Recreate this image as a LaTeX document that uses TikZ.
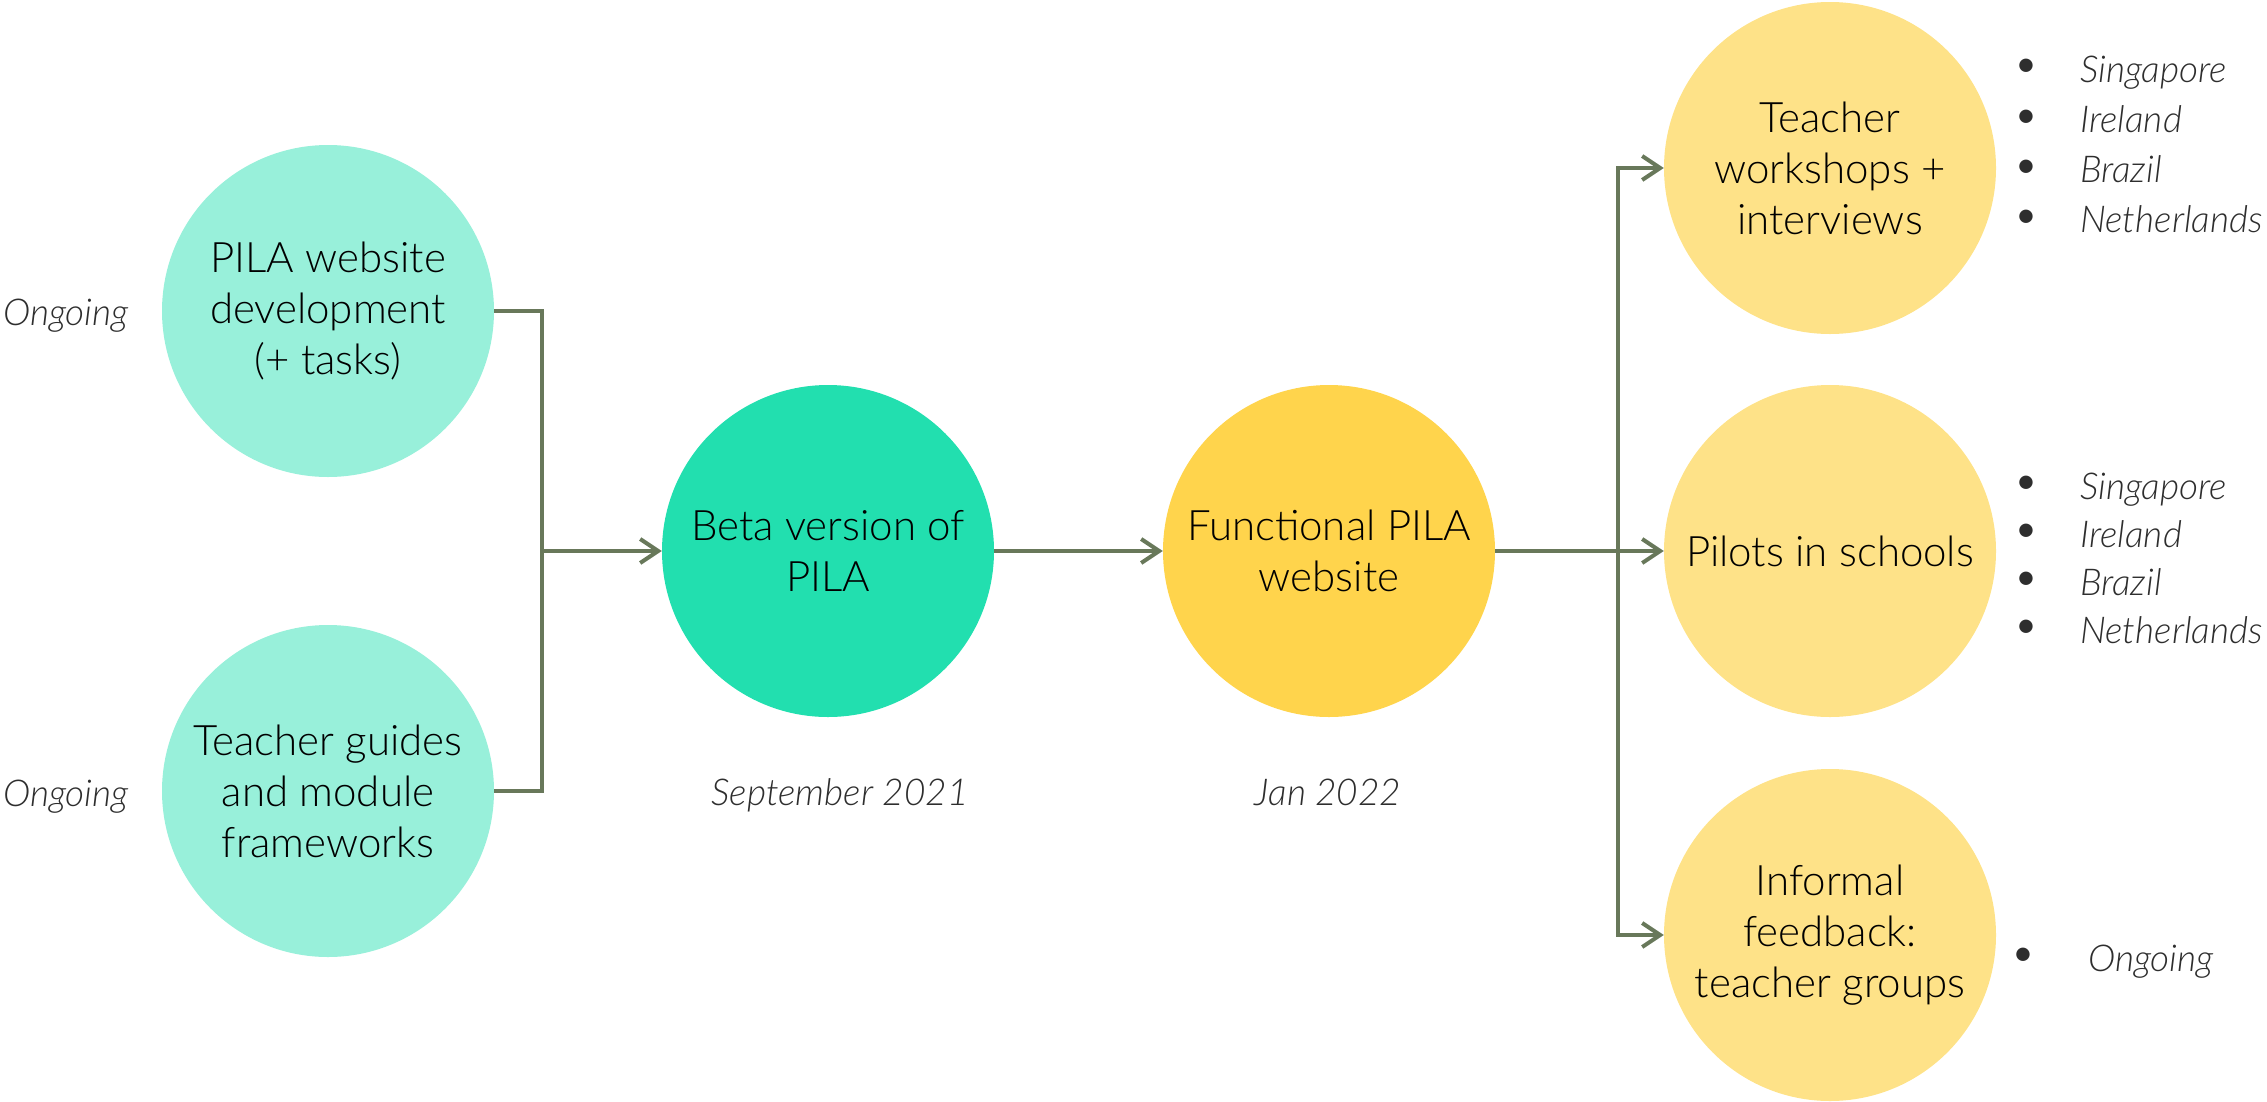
\documentclass[tikz,border=0pt]{standalone}
\usepackage{fontspec}
\setmainfont{Lato}
\newfontfamily\stagefont{Lato Light}
\usetikzlibrary{arrows.meta}
\definecolor{mintlight}{HTML}{98F0DA}
\definecolor{mintdeep}{HTML}{22DFAF}
\definecolor{goldmain}{HTML}{FFD44C}
\definecolor{goldsoft}{HTML}{FEE288}
\definecolor{linkgreen}{HTML}{68785A}
\definecolor{notegray}{HTML}{2E2E2E}
\begin{document}
\begin{tikzpicture}[x=1pt,y=-1pt,
  stage/.style={circle, minimum size=332pt, inner sep=0pt, align=center,
    text=black, font=\stagefont\fontsize{42}{51}\selectfont},
  note/.style={font=\stagefont\fontsize{37}{44}\selectfont\itshape, text=notegray, inner sep=0pt},
  bulletdot/.style={font=\fontsize{36}{44}\selectfont, text=notegray, inner sep=0pt},
  link/.style={draw=linkgreen, line width=4pt},
  flow/.style={link, -{Straight Barb[length=18pt,width=24pt]}}]
\useasboundingbox (0,0) rectangle (2267,1101);

% stages
\node[stage, fill=mintlight] (web) at (328,311) {PILA website\\development\\(+ tasks)};
\node[stage, fill=mintlight] (guides) at (328,791) {Teacher guides\\and module\\frameworks};
\node[stage, fill=mintdeep] (beta) at (828,551) {Beta version of\\PILA};
\node[stage, fill=goldmain] (func) at (1329,551) {Functional PILA\\website};
\node[stage, fill=goldsoft] (work) at (1830,168) {Teacher\\workshops +\\interviews};
\node[stage, fill=goldsoft] (pilot) at (1830,551) {Pilots in schools};
\node[stage, fill=goldsoft] (informal) at (1830,935) {Informal\\feedback:\\teacher groups};

% timing notes
\node[note, anchor=base west] (webtime) at (3,325) {Ongoing};
\node[note, anchor=base west] (guidetime) at (3,806) {Ongoing};
\node[note, anchor=base] (betatime) at (840,805) {September 2021};
\node[note, anchor=base] (functime) at (1328,805) {Jan 2022};

% country lists
\foreach \txt [count=\i] in {Singapore, Ireland, Brazil, Netherlands} {
  \pgfmathsetmacro\yb{82+50.3*(\i-1)}
  \node[bulletdot] (wsdot\i) at (2026,\yb-14) {•};
  \node[note, anchor=base west] (wsitem\i) at (2080,\yb) {\txt};
}
\foreach \txt [count=\i] in {Singapore, Ireland, Brazil, Netherlands} {
  \pgfmathsetmacro\yb{499+48*(\i-1)}
  \node[bulletdot] (pdot\i) at (2026,\yb-14) {•};
  \node[note, anchor=base west] (pitem\i) at (2080,\yb) {\txt};
}
\node[bulletdot] (idot) at (2023,957) {•};
\node[note, anchor=base west] (iitem) at (2088,971) {Ongoing};

% connectors
\coordinate (joinL) at (542,551);
\coordinate (joinR) at (1618,551);
\draw[link] (web.east) -| (joinL) |- (guides.east);
\draw[flow] (joinL) -- (beta.west);
\draw[flow] (beta.east) -- (func.west);
\draw[flow] (func.east) -- (pilot.west);
\draw[flow] (joinR) |- (work.west);
\draw[flow] (joinR) |- (informal.west);
\end{tikzpicture}
\end{document}
